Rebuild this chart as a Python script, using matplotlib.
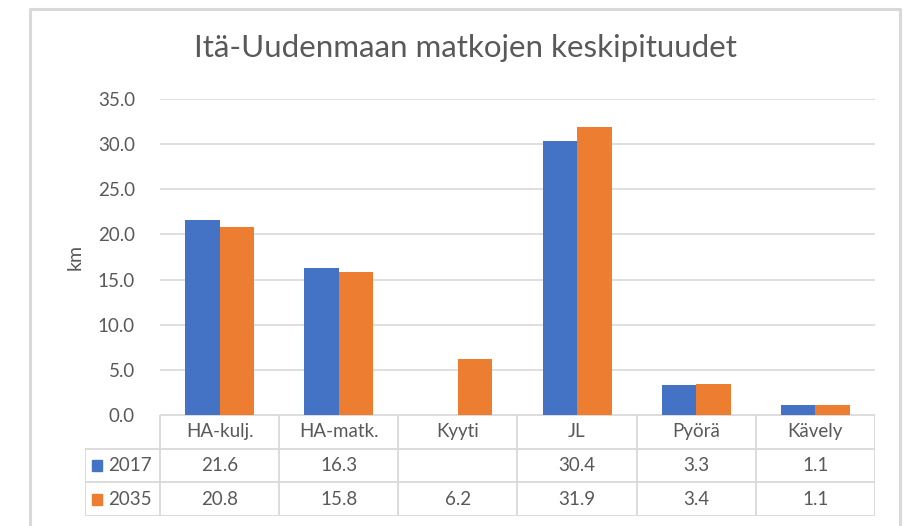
import numpy as np
import matplotlib.pyplot as plt
from matplotlib.lines import Line2D
from matplotlib.patches import Rectangle

plt.rcParams['font.family'] = ['Lato', 'DejaVu Sans']

# average trip lengths per mode (km)
categories = ['HA-kulj.', 'HA-matk.', 'Kyyti', 'JL', 'Pyörä', 'Kävely']
years = ['2017', '2035']
km_2017 = [21.6, 16.3, np.nan, 30.4, 3.3, 1.1]
km_2035 = [20.8, 15.8, 6.2, 31.9, 3.4, 1.1]
yticks = [0, 5, 10, 15, 20, 25, 30, 35]

blue = '#4472C4'
orange = '#ED7D31'
grid = '#D9D9D9'
txt = '#595959'
fs = 13.5

W, H = 907, 526
fig = plt.figure(figsize=(W / 100, H / 100), dpi=100)

def fx(px):
    return px / W

def fy(py):
    return 1 - py / H

# chart frame (open at the bottom)
fig.add_artist(Line2D([fx(30), fx(30), fx(900), fx(900)],
                      [0, fy(9), fy(9), 0], color=grid, lw=2.2,
                      transform=fig.transFigure))

ax = fig.add_axes([fx(160), fy(415), fx(875) - fx(160), fy(99) - fy(415)])
x = np.arange(len(categories)) + 0.5
w = 0.29
ax.bar(x - w / 2, km_2017, w, color=blue, zorder=3)
ax.bar(x + w / 2, km_2035, w, color=orange, zorder=3)

ax.set_xlim(0, len(categories))
ax.set_ylim(0, 35)
ax.set_yticks(yticks)
ax.set_yticklabels([f'{v:.1f}' for v in yticks])
ax.set_xticks([])
ax.tick_params(axis='y', length=0, pad=18, labelsize=fs, labelcolor=txt)
ax.grid(axis='y', color=grid, lw=1.2, zorder=0)
for s in ax.spines.values():
    s.set_visible(False)
ax.set_ylabel('km', fontsize=14, color=txt, labelpad=10)

fig.text(fx(465), fy(48), 'Itä-Uudenmaan matkojen keskipituudet',
         ha='center', va='center', fontsize=22.5, color=txt)

# data table under the plot
tab = fig.add_axes([fx(85), fy(516), fx(875) - fx(85), fy(415) - fy(516)])
left = -75 / 119.2
tab.set_xlim(left, len(categories))
tab.set_ylim(3, 0)
tab.axis('off')
lc = grid
lw = 1.3
# horizontal rules
tab.plot([0, 6], [0, 0], color=lc, lw=lw)
for r in (1, 2, 3):
    tab.plot([left, 6], [r, r], color=lc, lw=lw)
# vertical rules
tab.plot([left, left], [1, 3], color=lc, lw=lw)
for c in range(len(categories) + 1):
    tab.plot([c, c], [0, 3], color=lc, lw=lw)

for i, name in enumerate(categories):
    tab.text(i + 0.5, 0.5, name, ha='center', va='center', fontsize=fs, color=txt)

for r, (yr, vals, col) in enumerate(zip(years, [km_2017, km_2035], [blue, orange])):
    yc = r + 1.5
    tab.add_patch(Rectangle((left + 0.06, yc - 0.16), 0.085, 0.32, color=col,
                            clip_on=False))
    tab.text(left + 0.19, yc, yr, ha='left', va='center', fontsize=fs, color=txt)
    for i, v in enumerate(vals):
        if not np.isnan(v):
            tab.text(i + 0.5, yc, f'{v:.1f}', ha='center', va='center',
                     fontsize=fs, color=txt)

fig.savefig('out.png', dpi=100)
